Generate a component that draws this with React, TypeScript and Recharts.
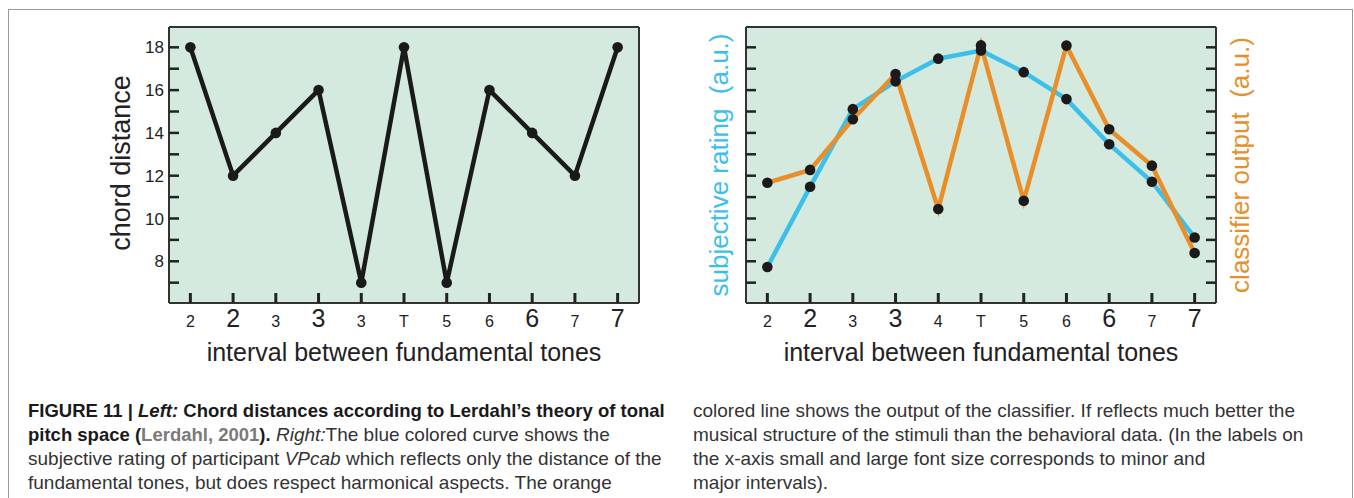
import React from 'react';
import { LineChart, Line, XAxis, YAxis, CartesianGrid } from 'recharts';

const leftCategories = ['2', '2', '3', '3', '3', 'T', '5', '6', '6', '7', '7'];
const rightCategories = ['2', '2', '3', '3', '4', 'T', '5', '6', '6', '7', '7'];
const majorInterval = [false, true, false, true, false, false, false, false, true, false, true];
const chordDistance = [18, 12, 14, 16, 7, 18, 7, 16, 14, 12, 18];
const subjectiveRating = [7.73, 11.48, 15.11, 16.41, 17.47, 17.85, 16.84, 15.58, 13.47, 11.72, 9.11];
const classifierOutput = [11.67, 12.27, 14.64, 16.75, 10.44, 18.09, 10.83, 18.08, 14.17, 12.47, 8.39];
const yTicks = [7, 8, 9, 10, 11, 12, 13, 14, 15, 16, 17, 18];
const yLabelTicks = [8, 10, 12, 14, 16, 18];
const xTicks = leftCategories.map((_, i) => i);

const leftData = chordDistance.map((v, i) => ({ pos: i, chord: v }));
const rightData = subjectiveRating.map((v, i) => ({ pos: i, subjective: v, classifier: classifierOutput[i] }));

const FONT = '"Liberation Sans", Arial, Helvetica, sans-serif';
const BG = '#d5eadf';
const INK = '#222';
const BLUE = '#3cc0ea';
const ORANGE = '#e88f2a';
const Y_DOMAIN: [number, number] = [6.05, 18.95];
const X_DOMAIN: [number, number] = [-0.5, 10.5];

const LeftYTick = (props: any) => {
  const { x, y, payload } = props;
  const v = payload.value;
  return (
    <g>
      <line x1={x} y1={y} x2={x + 10} y2={y} stroke={INK} strokeWidth={2.5} />
      {yLabelTicks.includes(v) && (
        <text x={x - 5} y={y} dy="0.36em" textAnchor="end" fontSize={17} fill={INK} fontFamily={FONT}>
          {v}
        </text>
      )}
    </g>
  );
};

const PlainLeftTick = (props: any) => {
  const { x, y } = props;
  return <line x1={x} y1={y} x2={x + 10} y2={y} stroke={INK} strokeWidth={2.5} />;
};

const PlainRightTick = (props: any) => {
  const { x, y } = props;
  return <line x1={x} y1={y} x2={x - 10} y2={y} stroke={INK} strokeWidth={2.5} />;
};

const makeXTick = (labels: string[]) => (props: any) => {
  const { x, y, payload } = props;
  const i = payload.value;
  const major = majorInterval[i];
  return (
    <g>
      <line x1={x} y1={y} x2={x} y2={y - 10} stroke={INK} strokeWidth={3} />
      <text x={x} y={y + 24} textAnchor="middle" fontSize={major ? 25 : 16} fill={INK} fontFamily={FONT}>
        {labels[i]}
      </text>
    </g>
  );
};

const LeftXTick = makeXTick(leftCategories);
const RightXTick = makeXTick(rightCategories);

const axisLine = { stroke: '#333', strokeWidth: 2 };

const dotStyle = { r: 5.3, fill: '#1a1a1a', stroke: '#1a1a1a', strokeWidth: 0 };

function LeftChart() {
  return (
    <LineChart width={700} height={400} data={leftData} margin={{ top: 26, left: 168, right: 60, bottom: 96 }}>
      <CartesianGrid fill={BG} horizontal={false} vertical={false} />
      <XAxis xAxisId={0} dataKey="pos" type="number" domain={X_DOMAIN} ticks={xTicks} height={1} tickSize={0} tickMargin={0} tickLine={false} axisLine={axisLine} tick={<LeftXTick />} interval={0} allowDataOverflow />
      <XAxis xAxisId="top" orientation="top" dataKey="pos" type="number" domain={X_DOMAIN} height={1} tick={false} tickLine={false} axisLine={axisLine} allowDataOverflow />
      <YAxis yAxisId={0} type="number" domain={Y_DOMAIN} ticks={yTicks} width={1} tickSize={0} tickMargin={0} tickLine={false} axisLine={axisLine} tick={<LeftYTick />} interval={0} allowDataOverflow />
      <YAxis yAxisId="r" orientation="right" type="number" domain={Y_DOMAIN} width={1} tick={false} tickLine={false} axisLine={axisLine} allowDataOverflow />
      <Line type="linear" dataKey="chord" stroke="#1a1a1a" strokeWidth={4.5} dot={dotStyle} activeDot={false} isAnimationActive={false} />
    </LineChart>
  );
}

function RightChart() {
  return (
    <LineChart width={640} height={400} data={rightData} margin={{ top: 26, left: 65, right: 103, bottom: 96 }}>
      <CartesianGrid fill={BG} horizontal={false} vertical={false} />
      <XAxis xAxisId={0} dataKey="pos" type="number" domain={X_DOMAIN} ticks={xTicks} height={1} tickSize={0} tickMargin={0} tickLine={false} axisLine={axisLine} tick={<RightXTick />} interval={0} allowDataOverflow />
      <XAxis xAxisId="top" orientation="top" dataKey="pos" type="number" domain={X_DOMAIN} height={1} tick={false} tickLine={false} axisLine={axisLine} allowDataOverflow />
      <YAxis yAxisId={0} type="number" domain={Y_DOMAIN} ticks={yTicks} width={1} tickSize={0} tickMargin={0} tickLine={false} axisLine={axisLine} tick={<PlainLeftTick />} interval={0} allowDataOverflow />
      <YAxis yAxisId="r" orientation="right" type="number" domain={Y_DOMAIN} ticks={yTicks} width={1} tickSize={0} tickMargin={0} tickLine={false} axisLine={axisLine} tick={<PlainRightTick />} interval={0} allowDataOverflow />
      <Line type="linear" dataKey="subjective" stroke={BLUE} strokeWidth={4.5} dot={dotStyle} activeDot={false} isAnimationActive={false} />
      <Line type="linear" dataKey="classifier" stroke={ORANGE} strokeWidth={4.5} dot={dotStyle} activeDot={false} isAnimationActive={false} />
    </LineChart>
  );
}

const captionStyle: React.CSSProperties = {
  position: 'absolute',
  fontFamily: FONT,
  fontSize: 19,
  lineHeight: '24px',
  color: '#333',
  whiteSpace: 'nowrap',
};

const boldStyle: React.CSSProperties = { fontWeight: 'bold', color: '#1a1a1a', fontSize: 18.5 };

export default function App() {
  return (
    <div style={{ position: 'absolute', left: 0, top: 0, width: 1354, height: 498, background: '#fff', overflow: 'hidden' }}>
      <div style={{ position: 'absolute', left: 8, top: 9, width: 1343, height: 520, borderTop: '1px solid #999', borderLeft: '1px solid #999', borderRight: '1px solid #999' }} />
      <div style={{ position: 'absolute', left: 0, top: 0 }}>
        <LeftChart />
      </div>
      <div style={{ position: 'absolute', left: 680, top: 0 }}>
        <RightChart />
      </div>
      <svg width={1354} height={498} style={{ position: 'absolute', left: 0, top: 0, pointerEvents: 'none' }}>
        <text x={121} y={163} transform="rotate(-90 121 163)" textAnchor="middle" dominantBaseline="central" fontSize={27} fill={INK} fontFamily={FONT}>chord distance</text>
        <text x={404} y={361} textAnchor="middle" fontSize={25} fill={INK} fontFamily={FONT}>interval between fundamental tones</text>
        <text x={981} y={361} textAnchor="middle" fontSize={25} fill={INK} fontFamily={FONT}>interval between fundamental tones</text>
        <text x={719} y={165} transform="rotate(-90 719 165)" textAnchor="middle" dominantBaseline="central" fontSize={26} fill={BLUE} fontFamily={FONT} style={{ whiteSpace: 'pre' }}>{'subjective rating  (a.u.)'}</text>
        <text x={1240} y={165} transform="rotate(-90 1240 165)" textAnchor="middle" dominantBaseline="central" fontSize={26} fill={ORANGE} fontFamily={FONT} style={{ whiteSpace: 'pre' }}>{'classifier output  (a.u.)'}</text>
      </svg>
      <div style={{ ...captionStyle, left: 28, top: 399 }}>
        <div style={boldStyle}>
          FIGURE 11 | <i>Left:</i> Chord distances according to Lerdahl’s theory of tonal
        </div>
        <div>
          <b style={boldStyle}>pitch space (<span style={{ color: '#7a7a7a' }}>Lerdahl, 2001</span>).</b> <i>Right:</i>The blue colored curve shows the
        </div>
        <div>
          subjective rating of participant <i>VPcab</i> which reflects only the distance of the
        </div>
        <div>fundamental tones, but does respect harmonical aspects. The orange</div>
      </div>
      <div style={{ ...captionStyle, left: 693, top: 399 }}>
        <div>colored line shows the output of the classifier. If reflects much better the</div>
        <div>musical structure of the stimuli than the behavioral data. (In the labels on</div>
        <div>the x-axis small and large font size corresponds to minor and</div>
        <div>major intervals).</div>
      </div>
    </div>
  );
}
